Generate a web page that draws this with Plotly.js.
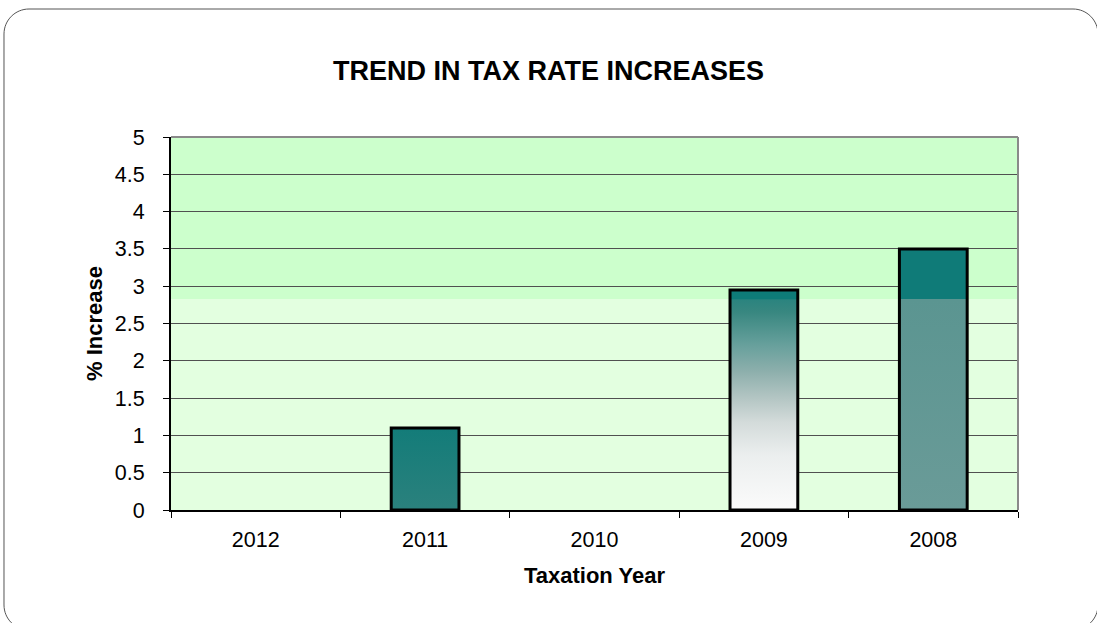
<!DOCTYPE html>
<html>
<head>
<meta charset="utf-8">
<script src="https://cdn.plot.ly/plotly-3.0.1.min.js"></script>
<style>
  html, body { margin: 0; padding: 0; background: #ffffff; }
  #chart { width: 1097px; height: 623px; }
</style>
</head>
<body>
<div id="chart"></div>
<script>
// ---- data ----
const years = ["2012", "2011", "2010", "2009", "2008"];
const increases = [0, 1.1, 0, 2.95, 3.5];
const yTickVals = [0, 0.5, 1, 1.5, 2, 2.5, 3, 3.5, 4, 4.5, 5];
const chartTitle = "TREND IN TAX RATE INCREASES";
const xTitle = "Taxation Year";
const yTitle = "% Increase";

// ---- styles ----
const W = 1097, H = 623;
const M = { l: 171, r: 79, t: 137, b: 113 };
const bandTop = 2.83; // lighter lower band limit
const barHalf = 0.2;
const fontFam = '"Liberation Sans", Arial, sans-serif';

const barScales = [
  [[0, '#1e7e7a'], [1, '#1e7e7a']],
  [[0, '#2b817d'], [1, '#137c79']],
  [[0, '#1e7e7a'], [1, '#1e7e7a']],
  [[0, '#fbfbfb'], [0.25, '#ebeeee'], [0.4, '#d3dbda'], [0.5, '#b6c7c5'], [0.63, '#8dafac'],
   [0.75, '#67a09c'], [0.9, '#388780'], [0.955, '#2b847f'], [0.96, '#0e7b78'], [1, '#0e7b78']],
  [[0, '#6a9b98'], [0.807, '#5b9591'], [0.809, '#0f7b78'], [1, '#0f7b78']]
];

const traces = years.map((yr, i) => {
  const v = increases[i];
  return {
    type: 'scatter',
    mode: 'lines',
    x: [i - barHalf, i - barHalf, i + barHalf, i + barHalf, i - barHalf],
    y: [0, v, v, 0, 0],
    fill: 'toself',
    fillgradient: { type: 'vertical', colorscale: barScales[i] },
    line: { color: '#000000', width: v > 0 ? 3 : 0 },
    hoverinfo: 'skip',
    showlegend: false
  };
});

// frame (rounded rectangle) in paper coords
const pw = W - M.l - M.r, ph = H - M.t - M.b;
const PX = px => ((px - M.l) / pw).toFixed(5);
const PY = py => ((H - M.b - py) / ph).toFixed(5);
const fx0 = 4, fx1 = 1098, fy0 = 9, fy1 = 630, r = 25, k = r * 0.5523;
const framePath =
  `M ${PX(fx0 + r)},${PY(fy0)} L ${PX(fx1 - r)},${PY(fy0)} ` +
  `C ${PX(fx1 - r + k)},${PY(fy0)} ${PX(fx1)},${PY(fy0 + r - k)} ${PX(fx1)},${PY(fy0 + r)} ` +
  `L ${PX(fx1)},${PY(fy1 - r)} ` +
  `C ${PX(fx1)},${PY(fy1 - r + k)} ${PX(fx1 - r + k)},${PY(fy1)} ${PX(fx1 - r)},${PY(fy1)} ` +
  `L ${PX(fx0 + r)},${PY(fy1)} ` +
  `C ${PX(fx0 + r - k)},${PY(fy1)} ${PX(fx0)},${PY(fy1 - r + k)} ${PX(fx0)},${PY(fy1 - r)} ` +
  `L ${PX(fx0)},${PY(fy0 + r)} ` +
  `C ${PX(fx0)},${PY(fy0 + r - k)} ${PX(fx0 + r - k)},${PY(fy0)} ${PX(fx0 + r)},${PY(fy0)} Z`;

const layout = {
  width: W, height: H,
  margin: M,
  paper_bgcolor: '#ffffff',
  plot_bgcolor: '#e3ffe0',
  font: { family: fontFam, size: 21.5, color: '#000000' },
  title: {
    text: '<b>' + chartTitle + '</b>',
    font: { family: fontFam, size: 27, color: '#000000' },
    x: 0.5, xref: 'container', xanchor: 'center',
    y: 1 - 71 / H, yref: 'container', yanchor: 'middle'
  },
  xaxis: {
    range: [-0.5, 4.5],
    tickmode: 'array',
    tickvals: years.map((_, i) => i),
    ticktext: years,
    ticks: '',
    ticklabelstandoff: 9,
    showgrid: false,
    zeroline: false,
    showline: true, linecolor: '#000000', linewidth: 2,
    minor: {
      tickmode: 'array',
      tickvals: years.map((_, i) => i - 0.5).concat([years.length - 0.5]),
      ticks: 'outside', ticklen: 6, tickcolor: '#000000', tickwidth: 1, showgrid: false
    },
    tickfont: { family: fontFam, size: 21.5, color: '#000000' },
    title: { text: '<b>' + xTitle + '</b>', font: { family: fontFam, size: 22, color: '#000000' }, standoff: 17 },
    fixedrange: true
  },
  yaxis: {
    range: [0, 5],
    tickmode: 'array',
    tickvals: yTickVals,
    ticktext: yTickVals.map(v => String(v)),
    ticks: 'outside', ticklen: 6, tickcolor: '#000000', tickwidth: 1,
    ticklabelstandoff: 14,
    showgrid: true, gridcolor: '#505050', gridwidth: 1,
    zeroline: false,
    showline: true, linecolor: '#000000', linewidth: 2,
    tickfont: { family: fontFam, size: 21.5, color: '#000000' },
    title: { text: '<b>' + yTitle + '</b>', font: { family: fontFam, size: 22, color: '#000000' }, standoff: 6 },
    fixedrange: true
  },
  shapes: [
    { type: 'rect', xref: 'paper', yref: 'y', x0: 0, x1: 1, y0: bandTop, y1: 5,
      fillcolor: '#ccffcc', line: { width: 0 }, layer: 'below' },
    { type: 'line', xref: 'paper', yref: 'paper', x0: 0, x1: 1, y0: 1, y1: 1,
      line: { color: '#8a8a8a', width: 2 }, layer: 'above' },
    { type: 'line', xref: 'paper', yref: 'paper', x0: 1, x1: 1, y0: 0, y1: 1,
      line: { color: '#8a8a8a', width: 2 }, layer: 'above' },
    { type: 'path', xref: 'paper', yref: 'paper', path: framePath,
      line: { color: '#555555', width: 1 }, fillcolor: 'rgba(0,0,0,0)', layer: 'above' }
  ],
  showlegend: false
};

Plotly.newPlot('chart', traces, layout, { displayModeBar: false, staticPlot: true });
</script>
</body>
</html>
